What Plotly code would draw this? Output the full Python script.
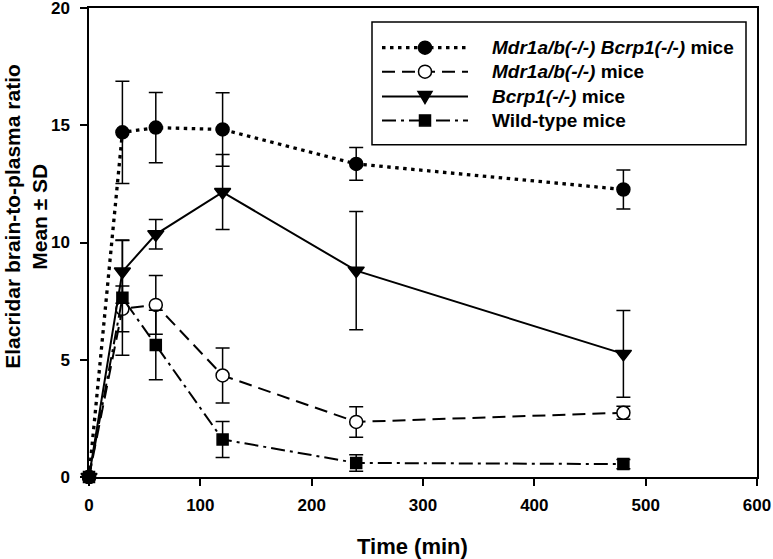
import plotly.graph_objects as go

# ---- data ----
time_min = [0, 30, 60, 120, 240, 480]

dko_mean = [0, 14.70, 14.90, 14.82, 13.35, 12.26]
dko_sd = [0, 2.18, 1.50, 1.57, 0.70, 0.83]

mdr_mean = [0, 7.17, 7.34, 4.33, 2.35, 2.74]
mdr_sd = [0, 0.98, 1.25, 1.17, 0.65, 0.28]

bcrp_mean = [0, 8.76, 10.35, 12.15, 8.80, 5.25]
bcrp_sd = [0, 1.35, 0.63, 1.60, 2.52, 1.85]

wt_mean = [0, 7.64, 5.63, 1.60, 0.60, 0.55]
wt_sd = [0, 2.45, 1.48, 0.77, 0.35, 0.20]

legend_labels = [
    "<b><i>Mdr1a/b(-/-) Bcrp1(-/-)</i> mice</b>",
    "<b><i>Mdr1a/b(-/-)</i> mice</b>",
    "<b><i>Bcrp1(-/-)</i> mice</b>",
    "<b>Wild-type mice</b>",
]
x_ticks = [0, 100, 200, 300, 400, 500, 600]
y_ticks = [0, 5, 10, 15, 20]
x_title = "<b>Time (min)</b>"
y_title_lines = ["<b>Elacridar brain-to-plasma ratio</b>", "<b>Mean ± SD</b>"]

FONT = "Arial, Liberation Sans, sans-serif"

styles = [
    dict(dash="3.5px,4.5px", lw=3.3, symbol="circle", fill="black", size=13),
    dict(dash="13px,7px", lw=2, symbol="circle", fill="white", size=13),
    dict(dash="solid", lw=2, symbol="triangle-down", fill="black", size=14),
    dict(dash="14px,5px,3px,5px", lw=2, symbol="square", fill="black", size=11),
]
series = [(dko_mean, dko_sd), (mdr_mean, mdr_sd), (bcrp_mean, bcrp_sd), (wt_mean, wt_sd)]

fig = go.Figure()
for (m, s), st, lab in zip(series, styles, legend_labels):
    fig.add_trace(go.Scatter(
        x=time_min, y=m, mode="lines+markers", name=lab, showlegend=False,
        line=dict(color="black", width=st["lw"], dash=st["dash"]),
        marker=dict(symbol=st["symbol"], size=st["size"], color=st["fill"],
                    line=dict(color="black", width=1.5)),
        error_y=dict(type="data", array=s, visible=True, color="black",
                     thickness=1.5, width=7),
        cliponaxis=False,
    ))

# ---- layout geometry (pixels) ----
W, H = 773, 559
L, R, T, B = 89, 757, 8, 477.5
pw, ph = R - L, B - T


def px(xp):
    return (xp - L) / pw


def py(yp):
    return (B - yp) / ph


shapes = []
annotations = []
# legend box
shapes.append(dict(type="rect", xref="paper", yref="paper",
                   x0=px(372), x1=px(746), y0=py(145), y1=py(22),
                   line=dict(color="black", width=1.5), fillcolor="white", layer="above"))
rows = [47.7, 71.7, 96.7, 120.5]
for yr, st, lab in zip(rows, styles, legend_labels):
    shapes.append(dict(type="line", xref="paper", yref="paper",
                       x0=px(382), x1=px(468), y0=py(yr), y1=py(yr),
                       line=dict(color="black", width=st["lw"], dash=st["dash"]), layer="above"))
    r = st["size"] / 2
    common = dict(xref="paper", yref="paper", xsizemode="pixel", ysizemode="pixel",
                  xanchor=px(425), yanchor=py(yr), fillcolor=st["fill"],
                  line=dict(color="black", width=1.5), layer="above")
    if st["symbol"] == "circle":
        shapes.append(dict(type="circle", x0=-r, x1=r, y0=-r, y1=r, **common))
    elif st["symbol"] == "square":
        shapes.append(dict(type="rect", x0=-r, x1=r, y0=-r, y1=r, **common))
    else:
        shapes.append(dict(type="path", path="M-7,5 L7,5 L0,-7 Z", **common))
    annotations.append(dict(xref="paper", yref="paper", x=px(490), y=py(yr),
                            xanchor="left", yanchor="middle", showarrow=False,
                            text=lab, font=dict(family=FONT, size=19, color="black")))

# axis titles
annotations.append(dict(xref="paper", yref="paper", x=px(412), y=py(547),
                        xanchor="center", yanchor="middle", showarrow=False,
                        text=x_title, font=dict(family=FONT, size=22, color="black")))
for xc, line in zip([13, 40], y_title_lines):
    annotations.append(dict(xref="paper", yref="paper", x=px(xc), y=py(217),
                            xanchor="center", yanchor="middle", showarrow=False,
                            textangle=-90, text=line,
                            font=dict(family=FONT, size=21, color="black")))

fig.update_layout(
    width=W, height=H,
    margin=dict(l=L, r=W - R, t=T, b=H - B, autoexpand=False),
    paper_bgcolor="white", plot_bgcolor="white",
    font=dict(family=FONT, color="black"),
    shapes=shapes, annotations=annotations,
    showlegend=False,
)
fig.update_xaxes(
    range=[0, 600], tickvals=x_ticks, automargin=False, ticklabeloverflow="allow",
    showline=True, linecolor="black", linewidth=1.5, mirror=True,
    ticks="outside", ticklen=7, tickwidth=1.5, tickcolor="black",
    showgrid=False, zeroline=False, ticklabelstandoff=5,
    tickfont=dict(family=FONT, size=17, weight="bold"),
)
fig.update_yaxes(
    range=[0, 20], tickvals=y_ticks, automargin=False, ticklabeloverflow="allow",
    showline=True, linecolor="black", linewidth=1.5, mirror=True,
    ticks="outside", ticklen=7, tickwidth=1.5, tickcolor="black",
    showgrid=False, zeroline=False, ticklabelstandoff=7,
    tickfont=dict(family=FONT, size=17, weight="bold"),
)

fig.write_html("out.html", config={"displayModeBar": False},
               post_script="document.body.style.margin='0';")
